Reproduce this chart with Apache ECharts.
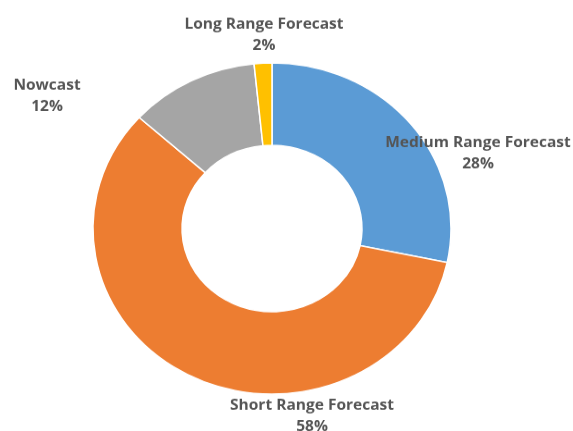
<!DOCTYPE html>
<html>
<head>
<meta charset="utf-8">
<script src="https://cdn.jsdelivr.net/npm/echarts@6/dist/echarts.min.js"></script>
<style>
html,body{margin:0;padding:0;background:#fff;overflow:hidden;}
#wrap{width:573px;height:431px;overflow:hidden;}
#chart{width:573px;height:466px;transform:scaleY(0.925);transform-origin:0 0;}
</style>
</head>
<body>
<div id="wrap"><div id="chart"></div></div>
<script>
const categories = ["Medium Range Forecast", "Short Range Forecast", "Nowcast", "Long Range Forecast"];
const values = [28.3, 58.4, 11.7, 1.6];
const colors = ["#5B9BD5", "#ED7D31", "#A5A5A5", "#FFC000"];

const labelPos = [[478, 166], [312, 450], [47, 104], [264, 38]];

const chart = echarts.init(document.getElementById('chart'), null, {renderer: 'canvas'});
chart.setOption({
  animation: false,
  series: [{
    type: 'pie',
    center: [272, 247],
    radius: [90, 179],
    startAngle: 90,
    clockwise: true,
    data: categories.map((c, i) => ({name: c, value: values[i], itemStyle: {color: colors[i]}})),
    itemStyle: {borderColor: '#fff', borderWidth: 1.5},
    label: {
      show: true,
      position: 'outside',
      formatter: p => p.name + '\n' + Math.round(p.percent) + '%',
      fontFamily: 'Open Sans',
      fontWeight: 'bold',
      fontSize: 15.5,
      lineHeight: 23,
      color: '#555555',
      align: 'center',
      verticalAlign: 'middle',
      overflow: 'none',
      width: 260
    },
    labelLine: {show: false},
    labelLayout: function (params) {
      const p = labelPos[params.dataIndex];
      return {x: p[0], y: p[1], align: 'center', verticalAlign: 'middle'};
    }
  }]
});
</script>
</body>
</html>
